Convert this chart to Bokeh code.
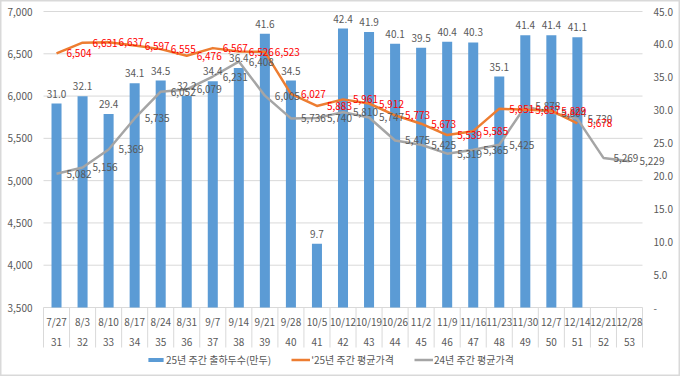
from bokeh.plotting import figure
from bokeh.models import Range1d, ColumnDataSource, Legend, LegendItem
from bokeh.core.properties import value
from bokeh.embed import file_html
from bokeh.resources import INLINE

# ---------------- data ----------------
dates = ["7/27", "8/3", "8/10", "8/17", "8/24", "8/31", "9/7", "9/14", "9/21", "9/28",
         "10/5", "10/12", "10/19", "10/26", "11/2", "11/9", "11/16", "11/23", "11/30",
         "12/7", "12/14", "12/21", "12/28"]
weeks = ["31", "32", "33", "34", "35", "36", "37", "38", "39", "40", "41", "42", "43",
         "44", "45", "46", "47", "48", "49", "50", "51", "52", "53"]
shipments_25 = [31.0, 32.1, 29.4, 34.1, 34.5, 32.2, 34.4, 36.4, 41.6, 34.5, 9.7, 42.4,
                41.9, 40.1, 39.5, 40.4, 40.3, 35.1, 41.4, 41.4, 41.1]
price_25 = [6504, 6631, 6637, 6597, 6555, 6476, 6567, 6526, 6523, 6027, 5883, 5961,
            5912, 5773, 5673, 5539, 5585, 5851, 5837, 5829, 5678]
price_24 = [5082, 5156, 5369, 5735, 6052, 6079, 6231, 6408, 6005, 5736, 5740, 5810,
            5747, 5475, 5425, 5319, 5365, 5425, 5878, 5804, 5730, 5269, 5229]
left_ticks = [3500, 4000, 4500, 5000, 5500, 6000, 6500, 7000]
left_tick_labels = ["3,500", "4,000", "4,500", "5,000", "5,500", "6,000", "6,500", "7,000"]
right_ticks = [0, 5, 10, 15, 20, 25, 30, 35, 40, 45]
right_tick_labels = ["-", "5.0", "10.0", "15.0", "20.0", "25.0", "30.0", "35.0", "40.0", "45.0"]
legend_labels = ["25년 주간 출하두수(만두)", "'25년 주간 평균가격", "24년 주간 평균가격"]

# ---------------- layout ----------------
W, H = 680, 376
PLOT_L, PLOT_R, PLOT_T = 43, 642, 11     # plot area (pixels)
AXIS_PX = 307                            # pixel row of the 3,500 / 0 baseline
FONT = value("Noto Sans CJK KR")
GRAY_TXT = "#595959"
GRID = "#D9D9D9"

n = len(dates)
cat_w = (PLOT_R - PLOT_L) / n
upx = (7000 - 3500) / (AXIS_PX - PLOT_T)
r_upx = 45 / (AXIS_PX - PLOT_T)
x0 = -0.5 - PLOT_L / cat_w
x1 = (n - 0.5) + (W - PLOT_R) / cat_w
y0 = 3500 - (H - AXIS_PX) * upx
y1 = 7000 + PLOT_T * upx


def py(px):
    return 7000 - (px - PLOT_T) * upx


def px_x(px):
    return -0.5 + (px - PLOT_L) / cat_w


# the frame fills the whole canvas; its outline is the chart border
p = figure(width=W, height=H, output_backend="svg", toolbar_location=None,
           x_range=Range1d(x0, x1), y_range=Range1d(y0, y1),
           x_axis_type=None, y_axis_type=None,
           min_border_left=0, min_border_right=0, min_border_top=0, min_border_bottom=0)
p.outline_line_color = GRID
p.outline_line_width = 2
p.background_fill_color = "white"
p.border_fill_color = "white"
p.extra_y_ranges = {"r": Range1d(-(H - AXIS_PX) * r_upx, 45 + PLOT_T * r_upx)}

# horizontal gridlines across the plot area
p.segment(x0=[-0.5] * len(left_ticks), y0=left_ticks,
          x1=[n - 0.5] * len(left_ticks), y1=left_ticks,
          line_color=GRID, line_width=1)

# primary (left) and secondary (right) axis tick labels
p.text(x=[px_x(32)] * len(left_ticks), y=left_ticks, text=left_tick_labels,
       text_align="right", text_baseline="middle",
       text_font=FONT, text_font_size="10px", text_color=GRAY_TXT)
p.text(x=[px_x(653)] * len(right_ticks), y=right_ticks, text=right_tick_labels,
       y_range_name="r", text_align="left", text_baseline="middle",
       text_font=FONT, text_font_size="10px", text_color=GRAY_TXT)

# category separators and two-level category labels
xs_all = list(range(n))
bounds = [i - 0.5 for i in range(n + 1)]
p.segment(x0=bounds, y0=[3500] * len(bounds), x1=bounds, y1=[py(347)] * len(bounds),
          line_color=GRID, line_width=1)
p.text(x=xs_all, y=[py(321)] * n, text=dates, text_align="center", text_baseline="middle",
       text_font=FONT, text_font_size="10px", text_color=GRAY_TXT)
p.text(x=xs_all, y=[py(341)] * n, text=weeks, text_align="center", text_baseline="middle",
       text_font=FONT, text_font_size="10px", text_color=GRAY_TXT)

# bars
xb = list(range(len(shipments_25)))
bsrc = ColumnDataSource(dict(x=xb, top=shipments_25,
                             lab=[f"{v:.1f}" for v in shipments_25]))
bars = p.vbar(x="x", top="top", bottom=0, width=0.385, source=bsrc, y_range_name="r",
              fill_color="#5B9BD5", line_color=None)

# lines
x25 = list(range(len(price_25)))
x24 = list(range(len(price_24)))
s25 = ColumnDataSource(dict(x=x25, y=price_25, lab=[f"{v:,}" for v in price_25]))
s24 = ColumnDataSource(dict(x=x24, y=price_24, lab=[f"{v:,}" for v in price_24]))
l24 = p.line("x", "y", source=s24, line_color="#A5A5A5", line_width=2.5, line_join="round")
l25 = p.line("x", "y", source=s25, line_color="#ED7D31", line_width=2.5, line_join="round")

# data labels
p.text(x="x", y="top", text="lab", source=bsrc, y_range_name="r", text_align="center",
       text_baseline="bottom", y_offset=-6, text_font=FONT, text_font_size="10px",
       text_color=GRAY_TXT)
p.text(x="x", y="y", text="lab", source=s24, text_align="left", text_baseline="middle",
       x_offset=10, text_font=FONT, text_font_size="10px", text_color=GRAY_TXT)
p.text(x="x", y="y", text="lab", source=s25, text_align="left", text_baseline="middle",
       x_offset=10, text_font=FONT, text_font_size="10px", text_color="#FF0000")

# legend
legend = Legend(items=[LegendItem(label=legend_labels[0], renderers=[bars]),
                       LegendItem(label=legend_labels[1], renderers=[l25]),
                       LegendItem(label=legend_labels[2], renderers=[l24])],
                orientation="horizontal", location=(146, 9),
                glyph_width=19, glyph_height=5, label_height=12, label_standoff=1,
                spacing=20, padding=0, margin=0,
                border_line_color=None, background_fill_alpha=0,
                label_text_font="Noto Sans CJK KR", label_text_font_size="10px",
                label_text_color=GRAY_TXT)
p.add_layout(legend, "center")

open("out.html", "w").write(file_html(p, INLINE))
